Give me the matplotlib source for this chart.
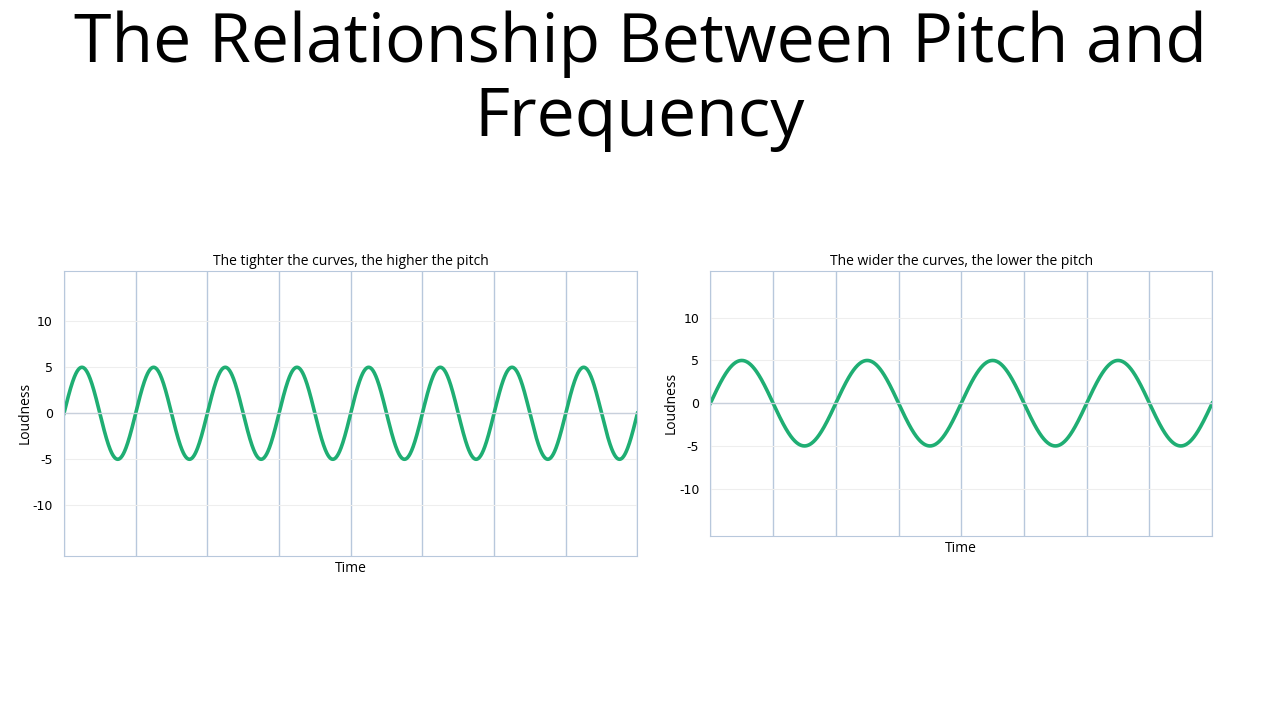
import numpy as np
from matplotlib import pyplot as plt

plt.rcParams['axes.unicode_minus'] = False

title = 'The Relationship Between Pitch and\nFrequency'
subtitles = ['The tighter the curves, the higher the pitch',
             'The wider the curves, the lower the pitch']
cycles = [8, 4]          # full waves across the time axis
amplitude = [5, 5]
divisions = 8            # vertical grid cells
yticks = [-10, -5, 0, 5, 10]
green = '#1fae73'
gridc = '#b8c8dc'

fig = plt.figure(figsize=(12.8, 7.2), dpi=100)
fig.text(0.5, 0.985, title, ha='center', va='top', fontsize=49, family='Open Sans', linespacing=1.12)

boxes = [[0.050, 0.228, 0.448, 0.396], [0.555, 0.256, 0.392, 0.368]]
for box, sub, n, a in zip(boxes, subtitles, cycles, amplitude):
    ax = fig.add_axes(box)
    t = np.linspace(0, 1, 2000)
    ax.plot(t, a * np.sin(2 * np.pi * n * t), color=green, lw=2.6)
    ax.set_xlim(0, 1)
    ax.set_ylim(-15.5, 15.5)
    ax.set_xticks(np.linspace(0, 1, divisions + 1))
    ax.set_yticks(yticks)
    ax.tick_params(length=0, labelbottom=False, labelsize=9, pad=8)
    ax.grid(axis='x', color=gridc, lw=1)
    ax.grid(axis='y', color='#eeeeee', lw=0.8)
    ax.axhline(0, color='#c8d0dc', lw=1)
    for s in ax.spines.values():
        s.set_color(gridc)
    ax.set_title(sub, fontsize=10, pad=4, family='Open Sans')
    ax.set_xlabel('Time', fontsize=10, labelpad=4, family='Open Sans')
    ax.set_ylabel('Loudness', fontsize=10, labelpad=0, family='Open Sans')

plt.savefig('out.png')
